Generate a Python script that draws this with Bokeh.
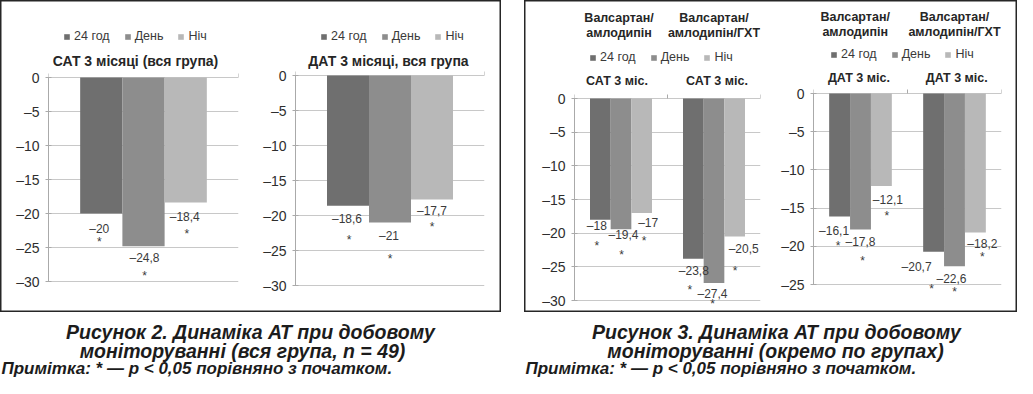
from bokeh.plotting import figure
from bokeh.models import (Range1d, FixedTicker, Legend, LegendItem, Label, LabelSet,
                          ColumnDataSource, Spacer)
from bokeh.layouts import row, column
from bokeh.core.properties import value
from bokeh.embed import file_html
from bokeh.resources import INLINE

# ------------------------------------------------------------------ data
series_names = ["24 год", "День", "Ніч"]

sat_whole_title = "САТ 3 місяці (вся група)"
sat_whole = [-20.0, -24.8, -18.4]
dat_whole_title = "ДАТ 3 місяці, вся група"
dat_whole = [-18.6, -21.0, -17.7]

group_head_1 = ["Валсартан/", "Валсартан/"]
group_head_2 = ["амлодипін", "амлодипін/ГХТ"]
sat_group_title = "САТ 3 міс."
dat_group_title = "ДАТ 3 міс."
sat_group_1 = [-18.0, -19.4, -17.0]
sat_group_2 = [-23.8, -27.4, -20.5]
dat_group_1 = [-16.1, -17.8, -12.1]
dat_group_2 = [-20.7, -22.6, -18.2]
significance_mark = "*"

ticks_30 = [0, -5, -10, -15, -20, -25, -30]
ticks_25 = [0, -5, -10, -15, -20, -25]

caption_fig2 = ["Рисунок 2. Динаміка АТ при добовому", "моніторуванні (вся група, n = 49)"]
caption_fig3 = ["Рисунок 3. Динаміка АТ при добовому", "моніторуванні (окремо по групах)"]
note_text = "Примітка: * — p < 0,05 порівняно з початком."

# ------------------------------------------------------------------ style
FONT = "Liberation Sans"
COLORS = ["#6f6f6f", "#8d8d8d", "#b8b8b8"]
GRID = "#c8c8c8"
AXIS = "#aaaaaa"
INK = "#262626"
LBL = "#3a3a3a"
BAR_W = 1 / 4.5


def fmt(v):
    s = f"{abs(v):g}".replace(".", ",")
    return ("\u2013" + s) if v < 0 else s


def build_chart(width, height, left, right, y0px, ppu, ticks, values,
                lab_nudge, star_nudge, legend_x, legend_y, texts):
    ncat = len(values)
    p = figure(width=width, height=height, x_range=Range1d(0, ncat),
               y_range=Range1d(-(height - y0px) / ppu, y0px / ppu),
               x_axis_location=None, toolbar_location=None, title=None,
               output_backend="svg", min_border_left=left, min_border_right=right,
               min_border_top=0, min_border_bottom=0)
    p.border_fill_color = None
    p.background_fill_color = None
    p.outline_line_color = None
    p.xgrid.visible = False

    def ydat(px):
        return (y0px - px) / ppu

    tick_labels = {t: ("0" if t == 0 else "\u2013" + str(-t)) for t in ticks}
    ax = p.yaxis[0]
    ax.ticker = FixedTicker(ticks=ticks)
    ax.bounds = (min(ticks), 0)
    ax.major_label_overrides = tick_labels
    ax.minor_tick_line_color = None
    ax.major_tick_in = 3
    ax.major_tick_out = 3
    ax.major_label_standoff = 6
    ax.axis_line_color = AXIS
    ax.major_tick_line_color = AXIS
    ax.major_label_text_font = FONT
    ax.major_label_text_font_size = "14px"
    ax.major_label_text_color = "#2e2e2e"
    p.ygrid.ticker = FixedTicker(ticks=ticks)
    p.ygrid.grid_line_color = GRID

    # small category-boundary ticks on the zero line
    bnd = list(range(ncat + 1))
    p.segment(x0=bnd, y0=[0] * len(bnd), x1=bnd, y1=[4 / ppu] * len(bnd),
              line_color=AXIS, line_width=1)

    rends = []
    for j, name in enumerate(series_names):
        xs = [c + 0.5 + (j - 1) * BAR_W for c in range(ncat)]
        tops = [values[c][j] for c in range(ncat)]
        src = ColumnDataSource(dict(x=xs, top=tops))
        r = p.vbar(x="x", top="top", bottom=0, width=BAR_W, source=src,
                   fill_color=COLORS[j], line_color=None)
        rends.append(r)

    lx, ly, lt, ldx, ldy, sdx, sdy = [], [], [], [], [], [], []
    for c in range(ncat):
        for j in range(len(series_names)):
            k = c * len(series_names) + j
            lx.append(c + 0.5 + (j - 1) * BAR_W)
            ly.append(values[c][j])
            lt.append(fmt(values[c][j]))
            ldx.append(lab_nudge[k][0])
            ldy.append(-lab_nudge[k][1])
            sdx.append(star_nudge[k][0])
            sdy.append(-(star_nudge[k][1] + 3))
    lsrc = ColumnDataSource(dict(x=lx, y=ly, t=lt, dx=ldx, dy=ldy, sdx=sdx, sdy=sdy,
                                 s=[significance_mark] * len(lx)))
    p.add_layout(LabelSet(x="x", y="y", text="t", x_offset="dx", y_offset="dy", source=lsrc,
                          text_align="center", text_baseline="middle",
                          text_font=value(FONT), text_font_size="12px", text_color=LBL))
    p.add_layout(LabelSet(x="x", y="y", text="s", x_offset="sdx", y_offset="sdy", source=lsrc,
                          text_align="center", text_baseline="middle",
                          text_font=value(FONT), text_font_size="12px", text_color=LBL))

    legend = Legend(items=[LegendItem(label=n, renderers=[r]) for n, r in zip(series_names, rends)],
                    orientation="horizontal", location=(legend_x, height - legend_y - 7),
                    glyph_width=7, glyph_height=7, label_standoff=4, spacing=14,
                    padding=0, margin=0, label_height=12, label_width=10,
                    border_line_color=None, background_fill_alpha=0,
                    label_text_font=FONT, label_text_font_size="12.5px",
                    label_text_color="#3a3a3a")
    p.add_layout(legend)

    for text, xd, ypx, size in texts:
        p.add_layout(Label(x=xd, y=ydat(ypx), text=text, text_align="center",
                           text_baseline="middle", text_font=FONT, text_font_style="bold",
                           text_font_size=size, text_color=INK))
    return p


def build_caption(width, height, lines, ys, centers, note_y):
    p = figure(width=width, height=height, x_range=Range1d(0, width), y_range=Range1d(height, 0),
               x_axis_location=None, y_axis_location=None, toolbar_location=None, title=None,
               output_backend="svg", min_border=0)
    p.border_fill_color = None
    p.background_fill_color = None
    p.outline_line_color = None
    p.grid.visible = False
    p.text(x=centers, y=ys, text=lines, text_align="center", text_baseline="middle",
           text_font=value(FONT), text_font_style="bold italic", text_font_size="19.5px",
           text_color="#1c1c1c")
    p.text(x=[1], y=[note_y], text=[note_text], text_align="left", text_baseline="middle",
           text_font=value(FONT), text_font_style="bold italic", text_font_size="17px",
           text_color="#1c1c1c")
    return p


PANEL_H = 312

# ------------------------------------------------------------------ left panel (fig. 2)
fig_a = build_chart(248, PANEL_H, 48, 10, 77, 6.8, ticks_30, [sat_whole],
                    [(-2, 15), (1, 12), (-1, 14)], [(-2, 25), (1, 27), (1, 28)],
                    15, 36, [(sat_whole_title, 0.458, 60, "14px")])
fig_b = build_chart(253, PANEL_H, 47, 17, 75, 7.0, ticks_30, [dat_whole],
                    [(-1, 13), (-1, 13), (0, 12)], [(1, 31), (0, 33), (0, 25)],
                    25, 36, [(dat_whole_title, 0.492, 60, "14px")])

# ------------------------------------------------------------------ right panel (fig. 3)
fig_c = build_chart(241, PANEL_H, 50, 5, 98, 202 / 30, ticks_30, [sat_group_1, sat_group_2],
                    [(-3.5, 6), (2.5, 5.4), (6.5, 10.5), (0.5, 12), (-1.5, 11.5), (9, 12)],
                    [(-3.5, 23), (0.5, 23), (2.5, 25.5), (-3.5, 28), (-1.5, 18.5), (0.5, 31)],
                    15, 57,
                    [(group_head_1[0], 0.479, 17, "12.5px"),
                     (group_head_2[0], 0.479, 32, "12.5px"),
                     (group_head_1[1], 1.50, 17, "12.5px"),
                     (group_head_2[1], 1.50, 32, "12.5px"),
                     (sat_group_title, 0.457, 80, "12.5px"),
                     (sat_group_title, 1.532, 80, "12.5px")])
fig_d = build_chart(252, PANEL_H, 48, 16, 93, 191 / 25, ticks_25, [dat_group_1, dat_group_2],
                    [(-5.5, 14), (0, 13), (6.5, 13.6), (-17, 15.6), (-3, 12.6), (7, 11.3)],
                    [(-1.5, 26), (2, 29), (5.5, 26.6), (-2, 34.6), (0, 22.6), (7, 21.3)],
                    17, 54,
                    [(group_head_1[0], 0.444, 16, "12.5px"),
                     (group_head_2[0], 0.444, 31, "12.5px"),
                     (group_head_1[1], 1.50, 16, "12.5px"),
                     (group_head_2[1], 1.50, 31, "12.5px"),
                     (dat_group_title, 0.483, 77, "12.5px"),
                     (dat_group_title, 1.524, 77, "12.5px")])

frame_style = {"box-shadow": "inset 0 0 0 1.5px #262626"}
left_panel = row(fig_a, fig_b, styles=frame_style)
right_panel = row(fig_c, fig_d, styles=frame_style)

CAP_H = 378 - PANEL_H
cap_left = build_caption(501, CAP_H, caption_fig2, [19, 38], [250, 242], 56)
cap_right = build_caption(493, CAP_H, caption_fig3, [19, 38], [252, 251], 56)

layout = row(column(left_panel, cap_left), Spacer(width=23, height=10),
             column(right_panel, cap_right))

open("out.html", "w").write(file_html(layout, INLINE))
